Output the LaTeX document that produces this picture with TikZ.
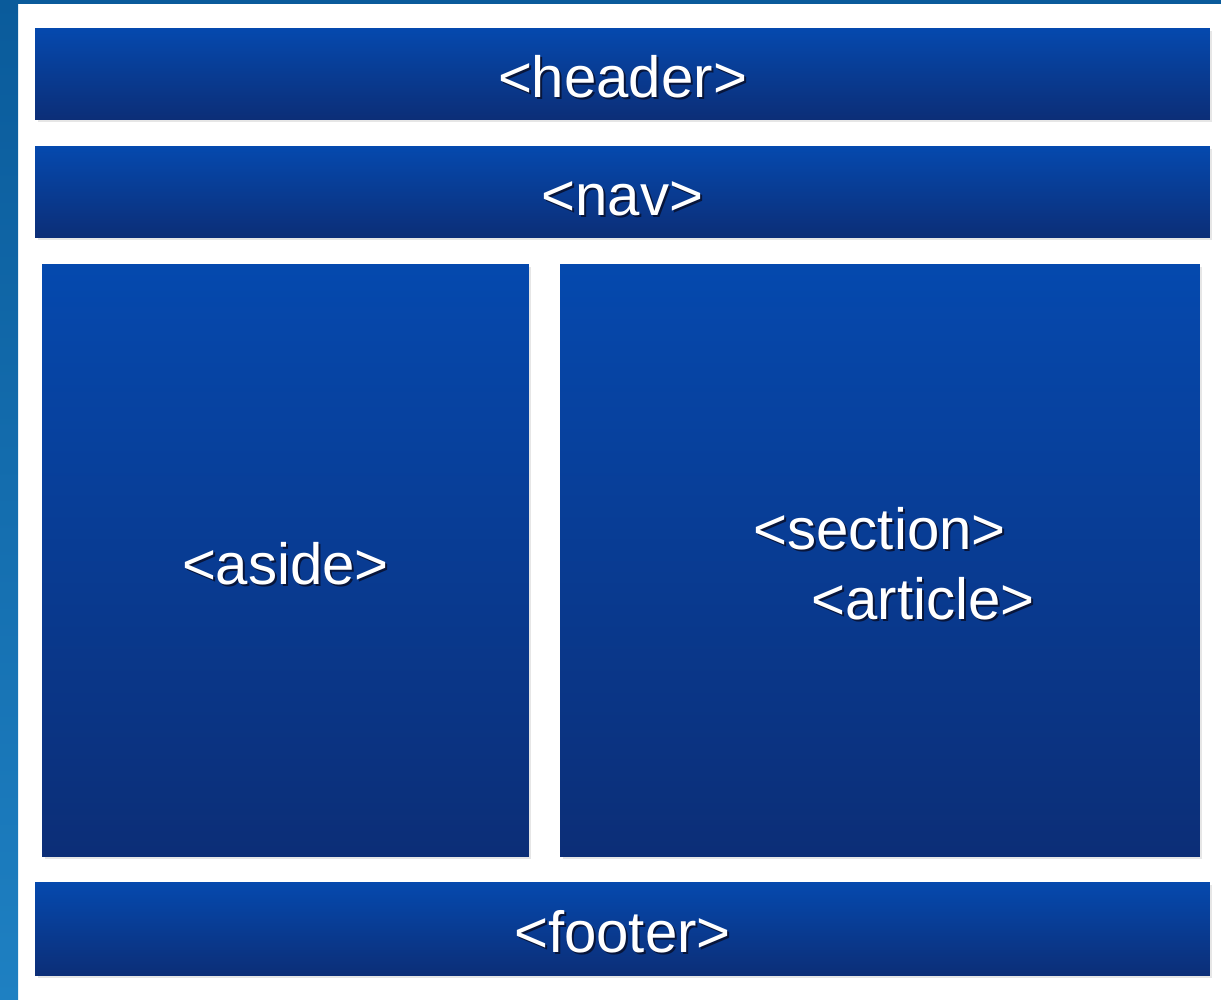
\documentclass[tikz,border=0pt]{standalone}
\usepackage{fontspec}
\setmainfont{Liberation Sans}
\usepackage{tikz}
\usetikzlibrary{shadows}
\definecolor{boxtop}{HTML}{0549AE}
\definecolor{boxmid}{HTML}{0A3E97}
\definecolor{boxbot}{HTML}{0C2E77}
\definecolor{striptop}{HTML}{0A5B9B}
\definecolor{stripbot}{HTML}{1E80C2}
\definecolor{textshade}{HTML}{08153A}
\tikzset{tagbox/.style={
    rectangle, inner sep=0pt, outer sep=0pt,
    top color=boxtop, middle color=boxmid, bottom color=boxbot,
    drop shadow={opacity=0.2, shadow xshift=0.05cm, shadow yshift=-0.05cm},
    text=white, font=\fontsize{33.1pt}{39.7pt}\selectfont
}}
\newcommand{\tagtext}[1]{\rule{0pt}{1.01cm}\rlap{\kern0.04cm\raisebox{-0.04cm}{\color{textshade}#1}}#1}

\begin{document}
\begin{tikzpicture}[x=0.02cm,y=-0.02cm]
\useasboundingbox (0,0) rectangle (1221,1000);

%frame
\fill[top color=striptop, bottom color=stripbot] (0,0) rectangle (18,1000);
\fill[striptop] (0,0) rectangle (1221,4);

%rows
\node[tagbox, minimum width=23.5cm, minimum height=1.84cm] (header) at (622.5,74) {\tagtext{<header>}};
\node[tagbox, minimum width=23.5cm, minimum height=1.84cm] (nav) at (622.5,192) {\tagtext{<nav>}};

%columns
\node[tagbox, minimum width=9.74cm, minimum height=11.86cm] (aside) at (285.5,560.5) {\tagtext{<aside>}};
\node[tagbox, minimum width=12.8cm, minimum height=11.86cm, align=left] (section) at (880,560.5)
    {\hspace*{0.56cm}\tagtext{<section>}\\\hspace*{1.72cm}\tagtext{<article>}};

%bottom
\node[tagbox, minimum width=23.5cm, minimum height=1.88cm] (footer) at (622.5,929) {\tagtext{<footer>}};

\end{tikzpicture}
\end{document}
